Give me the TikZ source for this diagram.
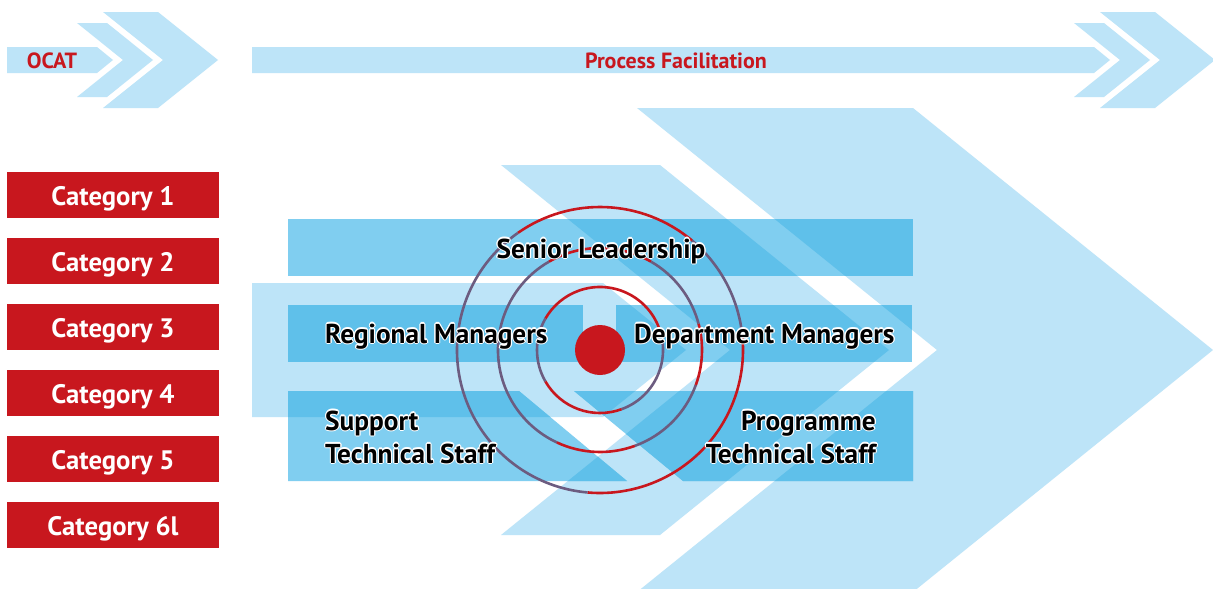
\documentclass[tikz,border=0pt]{standalone}
\usepackage{fontspec}
\setmainfont{PT Sans}
\definecolor{lb}{HTML}{BDE4F8}
\definecolor{bmed}{HTML}{80CEF0}
\definecolor{bdark}{HTML}{5FC0EA}
\definecolor{cred}{HTML}{C8171E}
\definecolor{rpur}{HTML}{6C5C80}
\newcommand\boxfills[1]{%
  \fill[#1] (288,219) rectangle (913,276);
  \fill[#1] (288,305) rectangle (583,362);
  \fill[#1] (616,305) rectangle (912,362);
  \fill[#1] (288,391)--(519,391)--(627,481)--(288,481)--cycle;
  \fill[#1] (574,391)--(913,391)--(913,481)--(683,481)--cycle;}
\newcommand\hlabel[4][]{%
  \foreach \a in {0,45,...,315}{\node[lbl,#1,text=white,shift={(\a:1.2pt)}] at #3 {#4};}
  \node[lbl,#1] (#2) at #3 {#4};}
\begin{document}
\begin{tikzpicture}[x=1pt,y=-1pt,
  shp/.style={fill=lb,draw=none},
  cat/.style={fill=cred,text=white,font=\fontsize{26.7}{30}\selectfont\bfseries,
    minimum width=212pt,minimum height=46pt,inner sep=0pt,text height=24pt,text depth=4pt},
  redlbl/.style={text=cred,font=\fontsize{22}{24}\selectfont\bfseries,inner sep=0pt},
  lbl/.style={font=\fontsize{27.3}{33}\selectfont\bfseries,inner sep=0pt,text=black},
  ringred/.style={draw=cred,line width=2.6pt},
  ringpur/.style={draw=rpur,line width=2.6pt}]
\useasboundingbox (0,0) rectangle (1213,589);
\clip (0,0) rectangle (1213,589);
\fill[white] (0,0) rectangle (1213,589);

% top-left group
\fill[shp] (7,47)--(97,47)--(113,60)--(97,73)--(7,73)--cycle;
\fill[shp] (77,23)--(107,23)--(153,60)--(107,97)--(77,97)--(123,60)--cycle;
\fill[shp] (103,12)--(158,12)--(218,60)--(158,108)--(103,108)--(163,60)--cycle;
% top-right group
\fill[shp] (252,47)--(1094,47)--(1110,60)--(1094,73)--(252,73)--cycle;
\begin{scope}[xshift=997pt]
\fill[shp] (77,23)--(107,23)--(153,60)--(107,97)--(77,97)--(123,60)--cycle;
\fill[shp] (103,12)--(158,12)--(218,60)--(158,108)--(103,108)--(163,60)--cycle;
\end{scope}
% main group
\fill[shp] (252,283)--(603,283)--(686,350)--(603,417)--(252,417)--cycle;
\fill[shp] (501,165)--(660,165)--(889,350)--(660,535)--(501,535)--(730,350)--cycle;
\fill[shp] (637,108)--(913,108)--(1213,350)--(913,592)--(637,592)--(937,350)--cycle;

% boxes
\boxfills{bmed}
\begin{scope}
\clip (252,283)--(603,283)--(686,350)--(603,417)--(252,417)--cycle
      (501,165)--(660,165)--(889,350)--(660,535)--(501,535)--(730,350)--cycle
      (637,108)--(913,108)--(1213,350)--(913,592)--(637,592)--(937,350)--cycle;
\boxfills{bdark}
\end{scope}

% rings
\begin{scope}[shift={(600,350)},y=1pt]
\draw[ringred] (-95:143) arc[start angle=-95,end angle=5,radius=143];
\draw[ringpur] (5:143) arc[start angle=5,end angle=50,radius=143];
\draw[ringred] (50:143) arc[start angle=50,end angle=125,radius=143];
\draw[ringpur] (125:143) arc[start angle=125,end angle=265,radius=143];
\draw[ringred] (60:102) arc[start angle=60,end angle=120,radius=102];
\draw[ringpur] (120:102) arc[start angle=120,end angle=245,radius=102];
\draw[ringred] (245:102) arc[start angle=245,end angle=290,radius=102];
\draw[ringpur] (290:102) arc[start angle=290,end angle=340,radius=102];
\draw[ringred] (340:102) arc[start angle=340,end angle=375,radius=102];
\draw[ringpur] (15:102) arc[start angle=15,end angle=60,radius=102];
\draw[ringpur] (-70:63) arc[start angle=-70,end angle=20,radius=63];
\draw[ringred] (20:63) arc[start angle=20,end angle=150,radius=63];
\draw[ringpur] (150:63) arc[start angle=150,end angle=210,radius=63];
\draw[ringred] (210:63) arc[start angle=210,end angle=290,radius=63];
\end{scope}
\node[circle,fill=cred,minimum size=50pt,inner sep=0pt] (dot) at (600,350) {};

% top labels
\node[redlbl] (ocat) at (52,61) {OCAT};
\node[redlbl] (pf) at (676,61) {Process Facilitation};

% categories
\node[cat] (c1) at (113,195) {Category 1};
\node[cat] (c2) at (113,261) {Category 2};
\node[cat] (c3) at (113,327) {Category 3};
\node[cat] (c4) at (113,393) {Category 4};
\node[cat] (c5) at (113,459) {Category 5};
\node[cat] (c6) at (113,525) {Category 6l};

% level labels
\hlabel[anchor=base]{senior}{(601,258)}{Senior Leadership}
\hlabel[anchor=base west]{regional}{(325,343)}{Regional Managers}
\hlabel[anchor=base west]{dept}{(634,343)}{Department Managers}
\hlabel[anchor=base west]{support}{(325,430)}{\begin{tabular}[t]{@{}l@{}}Support\\Technical Staff\end{tabular}}
\hlabel[anchor=base east]{prog}{(876,430)}{\begin{tabular}[t]{@{}r@{}}Programme\\Technical Staff\end{tabular}}
\end{tikzpicture}
\end{document}
